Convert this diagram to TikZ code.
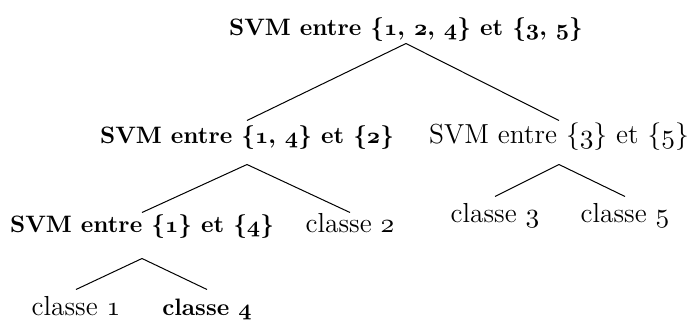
\documentclass[tikz,border=0pt]{standalone}
\usepackage{tikz}

\makeatletter
\newcommand{\osn}[1]{{\usefont{OML}{cmm}{\f@series}{it}#1}}
\makeatother

\begin{document}
\begin{tikzpicture}
[x=0.4pt, y=-0.4pt,
 lbl/.style={anchor=base, inner sep=0pt, text height=8pt, text depth=3.2pt,
             font=\fontsize{11}{13}\selectfont},
 blbl/.style={lbl, font=\fontsize{9.5}{12}\selectfont\bfseries}]

\useasboundingbox (0,0) rectangle (688,327);

% Root:
\node[blbl] (root) at (406,35) {SVM entre \{\osn{1}, \osn{2}, \osn{4}\} et \{\osn{3}, \osn{5}\}};

% Second level:
\node[blbl] (svma) at (247,143) {SVM entre \{\osn{1}, \osn{4}\} et \{\osn{2}\}};
\node[lbl]  (svmb) at (559,143) {SVM entre \{\osn{3}\} et \{\osn{5}\}};

% Third level:
\node[blbl] (svmc) at (142,232) {SVM entre \{\osn{1}\} et \{\osn{4}\}};
\node[lbl]  (cl2)  at (350,232) {classe \osn{2}};
\node[lbl]  (cl3)  at (495,222) {classe \osn{3}};
\node[lbl]  (cl5)  at (625,222) {classe \osn{5}};

% Leaves:
\node[lbl]  (cl1)  at (76,315)  {classe \osn{1}};
\node[blbl] (cl4)  at (207,315) {classe \osn{4}};

% Edges (parent/child/gap below parent/gap above child):
\foreach \p/\c/\a/\b in {root/svma/0/-2, root/svmb/0/-2,
                         svma/svmc/13/1, svma/cl2/13/1,
                         svmb/cl3/13/-5, svmb/cl5/13/-5,
                         svmc/cl1/18/-5, svmc/cl4/18/-5}
  \draw ([shift={(0,\a)}]\p.south) -- ([shift={(0,\b)}]\c.north);

\end{tikzpicture}
\end{document}
